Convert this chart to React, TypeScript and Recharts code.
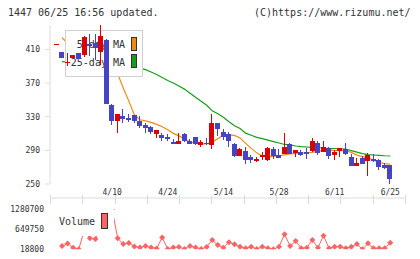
import React from 'react';
import { ComposedChart, Bar, Line, XAxis, YAxis } from 'recharts';

// Trading days shown on the chart (one per candle)
const dates = [
  '3/27', '3/30', '3/31', '4/1', '4/2', '4/3', '4/6', '4/7', '4/8', '4/9',
  '4/10', '4/13', '4/14', '4/15', '4/16', '4/17', '4/20', '4/21', '4/22', '4/23',
  '4/24', '4/27', '4/28', '4/30', '5/1', '5/7', '5/8', '5/11', '5/12', '5/13',
  '5/14', '5/15', '5/18', '5/19', '5/20', '5/21', '5/22', '5/25', '5/26', '5/27',
  '5/28', '5/29', '6/1', '6/2', '6/3', '6/4', '6/5', '6/8', '6/9', '6/10',
  '6/11', '6/12', '6/15', '6/16', '6/17', '6/18', '6/19', '6/22', '6/23', '6/24',
  '6/25',
];

const openPrices = [
  416.5, 406.5, 395, 400.2, 406, 402.6, 416.6, 417.5, 407.7, 421.6,
  344.2, 324.3, 331, 329, 332, 324.3, 320.3, 317.6, 309.2, 308.4,
  306.4, 300.4, 298.5, 309.2, 301.6, 305.6, 295.6, 299, 296.5, 322,
  312, 309.2, 297.3, 283.7, 289.3, 282.5, 277.4, 282.5, 278.6, 291.3,
  284.6, 285.8, 297.7, 286.6, 288.5, 288.5, 289.7, 299.3, 288.5, 293.3,
  283.7, 289.7, 291.3, 282.5, 271.8, 281.4, 277.8, 279.8, 278.6, 272.6,
  272.6,
];
const highPrices = [
  417, 406.5, 405.7, 403.8, 406, 426, 428, 428.5, 439, 422,
  345, 333.5, 339, 333.4, 332.5, 331, 322.3, 319.5, 314.5, 310.5,
  309, 303.3, 310.4, 311, 303, 306, 302.4, 304.5, 333.1, 323,
  315.2, 312.3, 299.2, 293, 294.5, 284.6, 282.5, 288.5, 294.5, 293.7,
  291.3, 311.2, 298.5, 290.5, 290, 292.5, 305.2, 301.3, 301.3, 293.5,
  290.5, 293.3, 299.2, 285.4, 281.4, 283.5, 286.6, 285.4, 280, 274.6,
  272.6,
];
const lowPrices = [
  416, 399, 390.8, 400.2, 399, 401, 402, 398, 391, 345,
  319.5, 310.8, 322, 323.5, 323, 316.4, 310.5, 310.5, 305.2, 300.6,
  300.6, 297.3, 297.3, 300, 298, 297, 293.7, 296.5, 291.7, 307.5,
  302.4, 294.4, 282.5, 283.5, 273.8, 274.7, 276.2, 279.4, 277.4, 279.4,
  281.4, 285.8, 285, 282.5, 283, 279.8, 288.5, 284.6, 288.5, 279.8,
  278.6, 282.5, 284.6, 271.8, 271.8, 274, 259.5, 275.4, 266.7, 267.5,
  250,
];
const closePrices = [
  416.5, 399, 395.3, 403.8, 399, 424.4, 414, 411, 426.4, 345.3,
  325.4, 333.1, 328, 326.3, 324.3, 318.3, 316.4, 311.1, 314.4, 305.2,
  303.6, 298.5, 301.6, 301.3, 298.5, 297.7, 299.7, 298, 322.3, 314.5,
  306, 300.4, 283.4, 291.7, 278.6, 278.6, 280.2, 284.6, 292.5, 283.4,
  281.4, 294.5, 285.8, 290.5, 284.6, 285.8, 301.3, 287.4, 294.5, 283.7,
  287.8, 293.3, 285.8, 271.8, 275.4, 274.7, 284.6, 277.4, 270.6, 268.7,
  256,
];

// Moving averages
const ma5 = [
  null, 424, 417, 410, 405, 405, 409, 412, 415, 407,
  396, 381, 364, 348.5, 332, 326.3, 325, 323.3, 320.9, 318,
  314.4, 310.2, 307.2, 303.6, 300, 298.5, 298, 297.7, 299.5, 304.2,
  307.8, 308.4, 307.8, 304.8, 298.3, 292.3, 287, 283, 282.5, 282.8,
  283.4, 284.6, 285.8, 286.4, 286.6, 287, 287.6, 289, 289.9, 290.3,
  289.9, 289.7, 289.7, 287.6, 284.3, 282.5, 281, 278.2, 275.6, 274.2,
  273.5,
];
const ma25 = [
  null, 395.4, 395, 394.6, 394.4, 394.8, 395.2, 395, 394.5, 395,
  394, 392, 391, 390, 389, 387.8, 386, 383.2, 380.2, 376.6,
  373, 370, 366.4, 362.8, 358, 353.2, 348.3, 343.6, 337, 333.5,
  329.4, 324, 319.2, 316, 310.4, 308, 305.4, 304, 302.2, 300.4,
  298.7, 297, 296.4, 295.2, 294.4, 294, 293.6, 293.4, 292.8, 292.4,
  292.2, 291.9, 291.6, 289.7, 287.9, 286.2, 285, 284.5, 284.1, 283.6,
  283.3,
];

const volumes = [
  null, 120000, 200000, 69000, 18800, 630000, 366000, 344000, 700000, 1050000,
  1280700, 366000, 186000, 217000, 107000, 75000, 123000, 75000, 44000, 391000,
  28000, 75000, 91000, 28000, 123000, 75000, 28000, 91000, 312000, 154000,
  69000, 240000, 176000, 101000, 50000, 101000, 28000, 101000, 50000, 18800,
  101000, 492000, 123000, 281000, 50000, 69000, 312000, 69000, 448000, 50000,
  101000, 101000, 50000, 101000, 186000, 18800, 208000, 50000, 50000, 50000,
  227000,
];

const priceTicks = [250, 290, 330, 370, 410];
const volumeTicks = [18800, 649750, 1280700];
const dateTickIndexes = [10, 20, 30, 40, 50, 60];

const rows = dates.map((date, i) => ({
  i,
  date,
  open: openPrices[i],
  high: highPrices[i],
  low: lowPrices[i],
  close: closePrices[i],
  range: [lowPrices[i], highPrices[i]],
  ma5: ma5[i],
  ma25: ma25[i],
  volume: volumes[i],
}));

// Layout
const WIDTH = 420;
const HEIGHT = 259;
const X_DOMAIN: [number, number] = [-1.17, 62.65];
const PRICE_DOMAIN: [number, number] = [250, 439];
const VOLUME_DOMAIN: [number, number] = [18800, 1280700];
const GRID_TICKS = Array.from(
  { length: 12 },
  (_, k) => X_DOMAIN[0] + (k * (X_DOMAIN[1] - X_DOMAIN[0])) / 11
);

const FONT = '"DejaVu Sans Mono", monospace';
const TEXT = '#333';
const AXIS = '#dcdcdc';
const UP = '#dc0000';
const DOWN = '#4444c4';
const MA5_COLOR = '#f08a10';
const MA25_COLOR = '#14a014';
const VOL_COLOR = '#ff6262';

const tickStyle = { fontSize: 8, fill: TEXT, fontFamily: FONT };

const GridTick = (props: any) => {
  const { x, y } = props;
  const px = Math.round(x) + 0.5;
  return (
    <line
      x1={px}
      x2={px}
      y1={y - 3.5}
      y2={y + 5.5}
      stroke={AXIS}
      strokeWidth={1}
      shapeRendering="crispEdges"
    />
  );
};

const Candle = (props: any) => {
  const { x, y, width, height, payload } = props;
  if (x == null || y == null || !payload) return null;
  const top = Math.min(y, y + height);
  const h = Math.abs(height);
  const { open, close, high, low } = payload;
  const span = high - low;
  const toPx = (v: number) => (span > 0 ? top + ((high - v) / span) * h : top);
  const cx = x + width / 2;
  const color = close >= open ? UP : DOWN;
  const yO = toPx(open);
  const yC = toPx(close);
  const bodyTop = Math.round(Math.min(yO, yC));
  const bodyH = Math.max(1, Math.round(Math.abs(yO - yC)));
  const bodyX = Math.round(cx - width / 2);
  return (
    <g>
      <rect
        x={bodyX + Math.floor(width / 2)}
        y={Math.round(top)}
        width={1}
        height={Math.max(1, Math.round(h))}
        fill={color}
      />
      <rect x={bodyX} y={bodyTop} width={width} height={bodyH} fill={color} />
    </g>
  );
};

const VolumeDot = (props: any) => {
  const { cx, cy, index } = props;
  if (cx == null || cy == null || Number.isNaN(cy)) return <g key={`vd-${index}`} />;
  const r = 3;
  return (
    <path
      key={`vd-${index}`}
      d={`M${cx},${cy - r} L${cx + r},${cy} L${cx},${cy + r} L${cx - r},${cy} Z`}
      fill={VOL_COLOR}
    />
  );
};

const layer: React.CSSProperties = { position: 'absolute', left: 0, top: 0 };

const legendText: React.CSSProperties = {
  position: 'absolute',
  fontFamily: FONT,
  fontSize: 10,
  color: TEXT,
  lineHeight: '12px',
  textAlign: 'right',
  whiteSpace: 'nowrap',
};

export default function App() {
  return (
    <div
      style={{
        position: 'absolute',
        left: 0,
        top: 0,
        width: WIDTH,
        height: HEIGHT,
        background: '#fff',
        overflow: 'hidden',
      }}
    >
      {/* Header */}
      <div style={{ ...legendText, textAlign: 'left', left: 8, top: 7 }}>
        1447 06/25 16:56 updated.
      </div>
      <div style={{ ...legendText, textAlign: 'left', left: 254, top: 7 }}>
        (C)https://www.rizumu.net/
      </div>

      {/* Price axes and moving averages */}
      <div style={layer}>
        <ComposedChart
          width={WIDTH}
          height={204}
          data={rows}
          margin={{ top: 25, right: 15, left: 0, bottom: 0 }}
        >
          <YAxis
            yAxisId="p"
            type="number"
            domain={PRICE_DOMAIN}
            ticks={priceTicks}
            width={50}
            tickSize={5}
            tickMargin={5}
            axisLine={{ stroke: AXIS }}
            tickLine={{ stroke: AXIS }}
            tick={tickStyle}
            allowDataOverflow
          />
          <XAxis
            xAxisId="grid"
            dataKey="i"
            type="number"
            domain={X_DOMAIN}
            ticks={GRID_TICKS}
            interval={0}
            height={6}
            tickSize={0}
            tickMargin={0}
            tickLine={false}
            axisLine={{ stroke: AXIS }}
            tick={<GridTick />}
            allowDataOverflow
          />
          <XAxis
            xAxisId="dates"
            dataKey="i"
            type="number"
            domain={X_DOMAIN}
            ticks={dateTickIndexes}
            interval={0}
            height={14}
            tickSize={0}
            tickMargin={5}
            tickLine={false}
            axisLine={false}
            tick={tickStyle}
            tickFormatter={(v: number) => dates[v] ?? ''}
            allowDataOverflow
          />
          <Line
            xAxisId="dates"
            yAxisId="p"
            dataKey="ma25"
            stroke={MA25_COLOR}
            strokeWidth={1.2}
            dot={false}
            activeDot={false}
            isAnimationActive={false}
          />
          <Line
            xAxisId="grid"
            yAxisId="p"
            dataKey="ma5"
            stroke={MA5_COLOR}
            strokeWidth={1.2}
            dot={false}
            activeDot={false}
            isAnimationActive={false}
          />
        </ComposedChart>
      </div>

      {/* Price legend */}
      <div
        style={{
          position: 'absolute',
          left: 65,
          top: 30,
          width: 78,
          height: 47,
          boxSizing: 'border-box',
          border: '1px solid #cfcfcf',
          background: '#fff',
        }}
      />
      <div style={{ ...legendText, left: 60, width: 65, top: 39 }}>5-day MA</div>
      <div style={{ ...legendText, left: 60, width: 65, top: 57 }}>25-day MA</div>
      <div
        style={{
          position: 'absolute',
          left: 131,
          top: 37,
          width: 6,
          height: 14,
          boxSizing: 'border-box',
          border: '1px solid #333',
          background: MA5_COLOR,
        }}
      />
      <div
        style={{
          position: 'absolute',
          left: 131,
          top: 54,
          width: 6,
          height: 14,
          boxSizing: 'border-box',
          border: '1px solid #333',
          background: MA25_COLOR,
        }}
      />

      {/* Candlesticks */}
      <div style={layer}>
        <ComposedChart
          width={WIDTH}
          height={204}
          data={rows}
          margin={{ top: 25, right: 15, left: 50, bottom: 20 }}
        >
          <YAxis yAxisId="p" type="number" domain={PRICE_DOMAIN} hide allowDataOverflow />
          <XAxis xAxisId="x" dataKey="i" type="number" domain={X_DOMAIN} hide allowDataOverflow />
          <Bar
            xAxisId="x"
            yAxisId="p"
            dataKey="range"
            barSize={5}
            shape={<Candle />}
            isAnimationActive={false}
          />
        </ComposedChart>
      </div>

      {/* Volume */}
      <div style={layer}>
        <ComposedChart
          width={WIDTH}
          height={HEIGHT}
          data={rows}
          margin={{ top: 209.3, right: 15, left: 0, bottom: 9.7 }}
        >
          <YAxis
            yAxisId="v"
            type="number"
            domain={VOLUME_DOMAIN}
            ticks={volumeTicks}
            width={50}
            tickSize={0}
            tickMargin={6}
            axisLine={false}
            tickLine={false}
            tick={tickStyle}
            allowDataOverflow
          />
          <XAxis xAxisId="x" dataKey="i" type="number" domain={X_DOMAIN} hide allowDataOverflow />
          <Line
            xAxisId="x"
            yAxisId="v"
            dataKey="volume"
            stroke={VOL_COLOR}
            strokeWidth={1}
            dot={<VolumeDot />}
            activeDot={false}
            isAnimationActive={false}
          />
        </ComposedChart>
      </div>

      {/* Volume legend */}
      <div
        style={{
          position: 'absolute',
          left: 53,
          top: 206,
          width: 61,
          height: 30,
          background: '#fff',
        }}
      />
      <div style={{ ...legendText, left: 40, width: 55, top: 216 }}>Volume</div>
      <div
        style={{
          position: 'absolute',
          left: 101,
          top: 213,
          width: 7,
          height: 16,
          boxSizing: 'border-box',
          border: '1px solid #333',
          background: VOL_COLOR,
        }}
      />
    </div>
  );
}
